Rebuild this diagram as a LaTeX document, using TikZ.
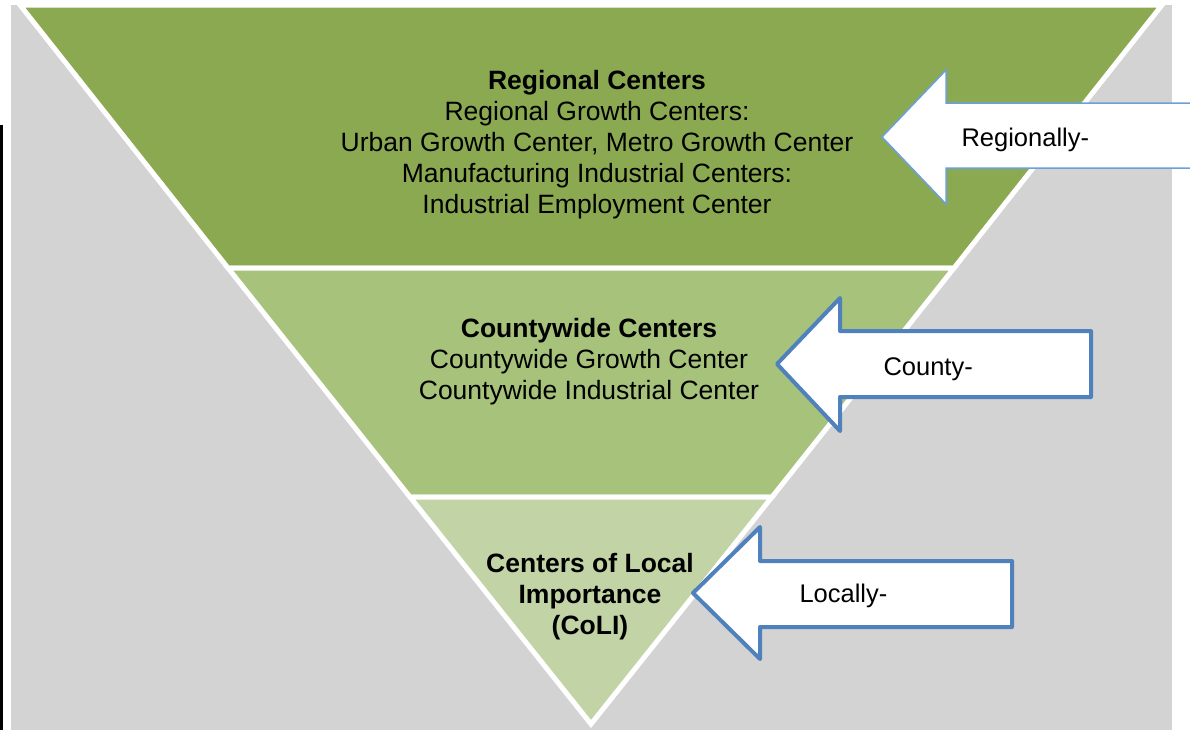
\documentclass[tikz,border=0pt]{standalone}
\usepackage{fontspec}
\setmainfont{Liberation Sans}
\usetikzlibrary{positioning}
\definecolor{bandtop}{HTML}{8BA951}
\definecolor{bandmid}{HTML}{A7C27A}
\definecolor{bandlow}{HTML}{C2D4A5}
\definecolor{backgray}{HTML}{D3D3D3}
\definecolor{paleblue}{HTML}{6CA0DC}
\definecolor{steelblue}{HTML}{4F81BD}
\tikzset{
  band/.style={draw=white, line width=5pt, line join=miter},
  tier/.style={align=center, font=\fontsize{26.5}{31}\selectfont},
  callout/.style={fill=white, draw=steelblue, line width=4pt, line join=round},
  calltext/.style={anchor=west, font=\fontsize{25.5}{31}\selectfont},
}

\begin{document}
\begin{tikzpicture}[x=1pt, y=-1pt]
  \useasboundingbox (0,0) rectangle (1190,729);
  \fill[backgray] (11,5) rectangle (1172,735);
  \draw[line width=3pt] (1.5,125) -- (1.5,735);

  % inverted pyramid, three bands
  \filldraw[band, fill=bandtop] (20,5) -- (1162,5) -- (954,268) -- (228,268) -- cycle;
  \filldraw[band, fill=bandmid] (228,268) -- (954,268) -- (772,497) -- (410,497) -- cycle;
  \filldraw[band, fill=bandlow] (410,497) -- (772,497) -- (591,724) -- cycle;

  \node[tier] (regional) at (597,145) {\textbf{Regional Centers}\\Regional Growth Centers:\\Urban Growth Center, Metro Growth Center\\Manufacturing Industrial Centers:\\Industrial Employment Center};
  \node[tier] (county) at (589,362) {\textbf{Countywide Centers}\\Countywide Growth Center\\Countywide Industrial Center};
  \node[tier] (local) at (590,597) {\textbf{Centers of Local}\\\textbf{Importance}\\\textbf{(CoLI)}};

  % block arrows pointing at the bands
  \filldraw[fill=white, draw=paleblue, line width=1.5pt]
    (882,137) -- (946,70) -- (946,103) -- (1200,103) -- (1200,168) -- (946,168) -- (946,204) -- cycle;
  \filldraw[callout]
    (777,364) -- (840,298) -- (840,331) -- (1091,331) -- (1091,397) -- (840,397) -- (840,431) -- cycle;
  \filldraw[callout]
    (693,593) -- (760,527) -- (760,561) -- (1012,561) -- (1012,627) -- (760,627) -- (760,659) -- cycle;

  \node[calltext] (regtag) at (958,140) {Regionally-};
  \node[calltext] (countytag) at (880,369) {County-};
  \node[calltext] (localtag) at (796,596) {Locally-};
\end{tikzpicture}
\end{document}
